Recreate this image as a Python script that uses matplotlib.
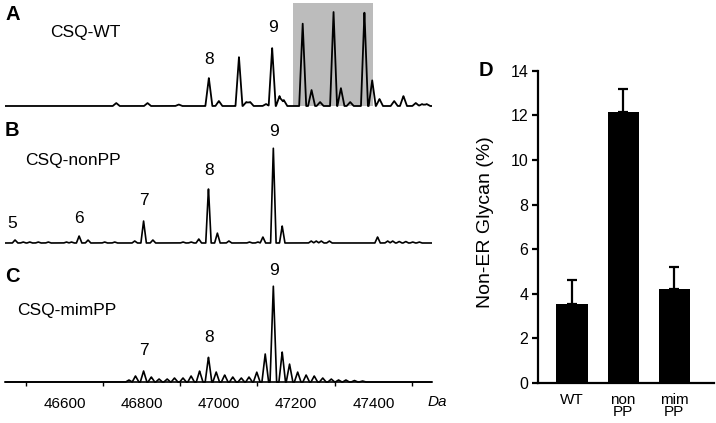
import numpy as np
import matplotlib
matplotlib.use("Agg")
import matplotlib.pyplot as plt

plt.rcParams['font.family'] = ['Liberation Sans', 'DejaVu Sans']

W, H = 716, 423

# peak centres (Da) and heights (relative intensity)
wt_mass = [46734, 46815, 46896, 46974, 47000, 47052, 47071, 47081, 47122, 47138,
           47157, 47168, 47217, 47240, 47262, 47297, 47316, 47340, 47377, 47397,
           47416, 47454, 47478, 47510, 47526, 47538]
wt_int = [3, 3, 1.5, 28, 5, 49, 4, 4, 2, 58,
          10, 6, 83, 16, 4, 94, 18, 4, 94, 26,
          7, 5, 10, 3, 2, 2]

nonpp_mass = [46472, 46493, 46510, 46532, 46558, 46605, 46618, 46638, 46661, 46704,
              46730, 46782, 46805, 46829, 46907, 46928, 46948, 46973, 46996, 47026,
              47079, 47101, 47114, 47141, 47164, 47239, 47252, 47265, 47286, 47411,
              47437, 47450, 47467, 47484, 47502, 47519]
nonpp_int = [3, 1, 1, 1, 1, 1, 1, 7, 3, 1,
             1, 2, 22, 3, 1, 1, 4, 55, 10, 2,
             1, 1, 6, 95, 17, 2, 2, 2, 2, 6,
             2, 2, 1.5, 1.5, 1, 1]

mimpp_mass = [46767, 46784, 46805, 46825, 46845, 46866, 46885, 46907, 46928, 46950,
              46973, 46993, 47015, 47036, 47058, 47078, 47098, 47120, 47141, 47164,
              47183, 47204, 47226, 47247, 47269, 47291, 47310, 47329, 47351, 47372]
mimpp_int = [2, 6, 11, 5, 3, 3, 4, 4, 6, 11,
             25, 10, 7, 5, 4, 5, 10, 28, 96, 30,
             18, 10, 7, 6, 4, 3, 2, 2, 1.5, 1]

shade_range = (47191, 47400)

# panel D
groups = ['WT', 'non\nPP', 'mim\nPP']
non_er = [3.56, 12.15, 4.2]
non_er_err = [1.04, 1.02, 1.0]

xmin, xmax = 46446, 47552
grid = np.linspace(xmin, xmax, 4000)


def spectrum(mass, inten, hw=7.0):
    y = np.zeros_like(grid)
    for m, h in zip(mass, inten):
        y += h * np.clip(1 - np.abs(grid - m) / hw, 0, None)
    return y


def px_axes(l, t, r, b):
    return fig.add_axes([l / W, 1 - b / H, (r - l) / W, (b - t) / H])


def ftext(x, y, s, **kw):
    kw.setdefault('va', 'center')
    fig.text(x / W, 1 - y / H, s, **kw)


fig = plt.figure(figsize=(W / 100, H / 100), dpi=100)

# A
axA = px_axes(5, 3, 432, 107)
axA.fill_between(shade_range, 0, 103, color='#bcbcbc', lw=0)
axA.plot(grid, spectrum(wt_mass, wt_int, 9.0), color='black', lw=1.3)
axA.set_ylim(-1, 103)

# B
axB = px_axes(5, 143, 432, 244)
axB.plot(grid, spectrum(nonpp_mass, nonpp_int, 7.0), color='black', lw=1.2)
axB.set_ylim(-1, 100)

# C
axC = px_axes(5, 282, 432, 383)
axC.plot(grid, spectrum(mimpp_mass, mimpp_int, 8.5), color='black', lw=1.2)
axC.set_ylim(-1, 100)

for ax in (axA, axB, axC):
    ax.set_xlim(xmin, xmax)
    ax.set_yticks([])
    for s in ax.spines.values():
        s.set_visible(False)
for ax in (axA, axB):
    ax.set_xticks([])

axC.spines['bottom'].set_visible(True)
axC.spines['bottom'].set_position(('data', 0))
axC.spines['bottom'].set_linewidth(1.2)
axC.set_xticks(np.arange(46600, 47401, 200))
axC.set_xticks(np.arange(46500, 47501, 200), minor=True)
axC.tick_params(axis='x', which='major', length=0, pad=11, labelsize=11)
axC.tick_params(axis='x', which='minor', length=3, width=1, direction='out')

# labels on spectra
fs = 12.5
ftext(5, 15, 'A', fontsize=14.5, fontweight='bold')
ftext(50, 33, 'CSQ-WT', fontsize=fs)
ftext(209, 60, '8', fontsize=fs, ha='center')
ftext(273, 27, '9', fontsize=fs, ha='center')

ftext(5, 130, 'B', fontsize=14.5, fontweight='bold')
ftext(25, 160, 'CSQ-nonPP', fontsize=fs)
ftext(12, 223, '5', fontsize=fs, ha='center')
ftext(79, 218, '6', fontsize=fs, ha='center')
ftext(144, 200, '7', fontsize=fs, ha='center')
ftext(209, 170, '8', fontsize=fs, ha='center')
ftext(274, 132, '9', fontsize=fs, ha='center')

ftext(5, 277, 'C', fontsize=14.5, fontweight='bold')
ftext(17, 310, 'CSQ-mimPP', fontsize=fs)
ftext(144, 350, '7', fontsize=fs, ha='center')
ftext(209, 337, '8', fontsize=fs, ha='center')
ftext(274, 270, '9', fontsize=fs, ha='center')
ftext(428, 402, 'Da', fontsize=11, style='italic')

# D
axD = px_axes(538, 70.7, 714, 383)
x = np.arange(len(groups))
axD.bar(x, non_er, width=0.61, color='black',
        yerr=[np.zeros(len(non_er)), non_er_err],
        error_kw=dict(ecolor='black', elinewidth=1.6, capsize=3.5, capthick=1.6))
axD.set_xlim(-0.667, 2.78)
axD.set_ylim(0, 14)
axD.set_yticks(np.arange(0, 15, 2))
axD.set_xticks(x)
axD.set_xticklabels(groups, linespacing=0.8)
axD.spines['top'].set_visible(False)
axD.spines['right'].set_visible(False)
axD.spines['left'].set_linewidth(1.6)
axD.spines['bottom'].set_linewidth(1.6)
axD.tick_params(axis='y', length=4, width=1.6, pad=3, labelsize=11.5)
axD.tick_params(axis='x', length=0, pad=7, labelsize=11)

ftext(479, 70, 'D', fontsize=14.5, fontweight='bold')
ftext(485, 222, 'Non-ER Glycan (%)', fontsize=14, rotation=90, ha='center')

fig.savefig('out.png', dpi=100)
